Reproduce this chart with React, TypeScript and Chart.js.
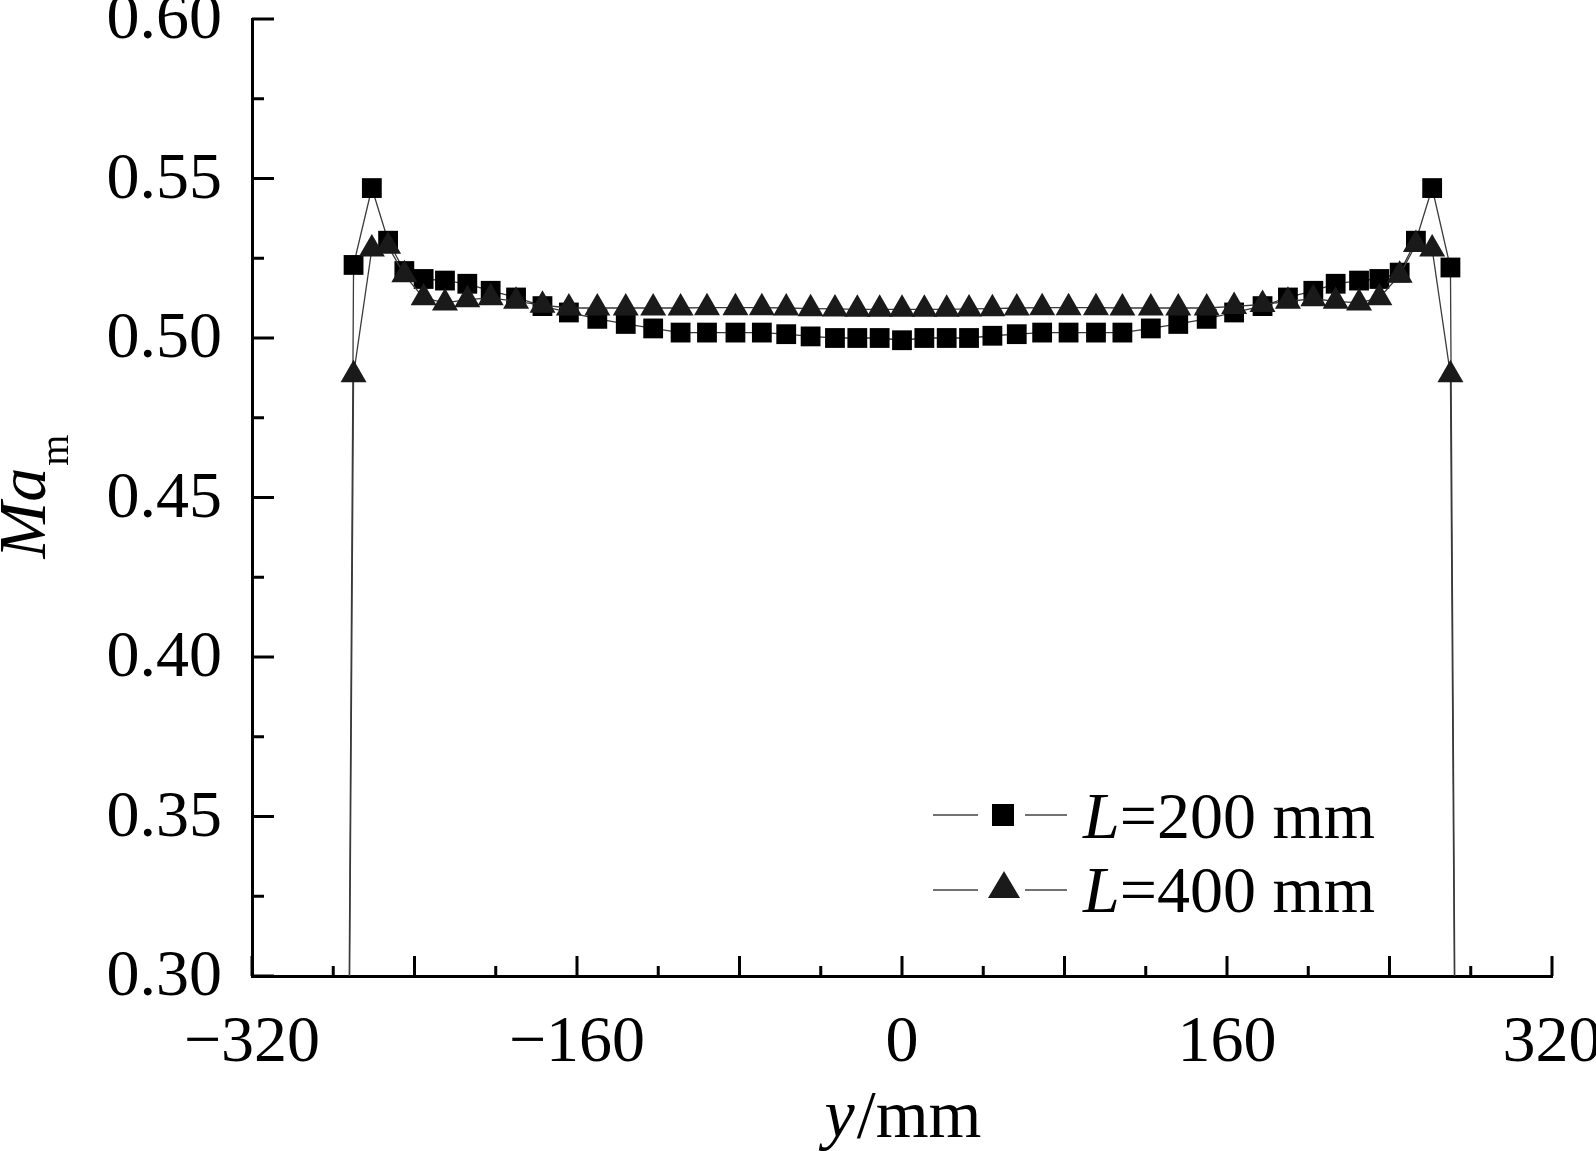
import { useEffect, useRef } from "react";
import { Chart, registerables } from "chart.js";

Chart.register(...registerables);

// spanwise position y (mm); ±275 is the wall where Ma drops to 0
const positions = [
  -275, -270, -261, -253, -245, -235.5, -225, -214, -202.5, -190, -177, -164,
  -150, -136, -122.5, -109, -96, -82, -69, -57, -45, -33, -22, -11, 0, 11, 22,
  33, 44.5, 56.5, 69, 82, 95.5, 108.5, 122.5, 136, 150, 163.5, 177.5, 190,
  202.5, 213.5, 225, 235, 245, 253, 261, 270, 275,
];

// L = 200 mm
const ma200 = [
  0, 0.5229, 0.547, 0.5305, 0.521, 0.5185, 0.518, 0.517, 0.5148, 0.5127, 0.51,
  0.508, 0.506, 0.5044, 0.503, 0.5017, 0.5017, 0.5017, 0.5017, 0.5012, 0.5005,
  0.5, 0.5, 0.5, 0.4993, 0.5, 0.5, 0.5, 0.5007, 0.5012, 0.5017, 0.5017, 0.5017,
  0.5017, 0.503, 0.5044, 0.506, 0.508, 0.51, 0.5127, 0.5148, 0.517, 0.518,
  0.5185, 0.5205, 0.5305, 0.547, 0.5221, 0,
];

// L = 400 mm
const ma400 = [
  0, 0.4885, 0.5279, 0.5288, 0.5198, 0.5126, 0.511, 0.512, 0.5126, 0.5115,
  0.5103, 0.5094, 0.5094, 0.5094, 0.5094, 0.5094, 0.5095, 0.5095, 0.5095,
  0.5094, 0.5092, 0.5091, 0.509, 0.509, 0.509, 0.509, 0.509, 0.5091, 0.5092,
  0.5094, 0.5095, 0.5095, 0.5095, 0.5094, 0.5094, 0.5094, 0.5094, 0.5099,
  0.5105, 0.5115, 0.5123, 0.5115, 0.511, 0.5126, 0.5197, 0.5293, 0.5279,
  0.4885, 0,
];

const seriesLabels = ["=200 mm", "=400 mm"];

const xMajorTicks = [-320, -240, -160, -80, 0, 80, 160, 240, 320];
const xMinorTicks = [-280, -200, -120, -40, 40, 120, 200, 280];
const yMajorTicks = [0.3, 0.35, 0.4, 0.45, 0.5, 0.55, 0.6];
const yMinorTicks = [0.325, 0.375, 0.425, 0.475, 0.525, 0.575];

const FONT = "'Liberation Serif', 'Times New Roman', serif";

const decor = {
  id: "decor",
  afterDraw(chart: Chart) {
    const { ctx, chartArea } = chart;
    const xs = chart.scales.x;
    const ys = chart.scales.y;
    ctx.save();

    // inward ticks
    ctx.strokeStyle = "#000";
    ctx.lineWidth = 3;
    ctx.beginPath();
    xMajorTicks.forEach((v) => {
      const px = xs.getPixelForValue(v);
      ctx.moveTo(px, chartArea.bottom);
      ctx.lineTo(px, chartArea.bottom - 20);
    });
    xMinorTicks.forEach((v) => {
      const px = xs.getPixelForValue(v);
      ctx.moveTo(px, chartArea.bottom);
      ctx.lineTo(px, chartArea.bottom - 10);
    });
    yMajorTicks.forEach((v) => {
      const py = ys.getPixelForValue(v);
      ctx.moveTo(chartArea.left, py);
      ctx.lineTo(chartArea.left + 22, py);
    });
    yMinorTicks.forEach((v) => {
      const py = ys.getPixelForValue(v);
      ctx.moveTo(chartArea.left, py);
      ctx.lineTo(chartArea.left + 12, py);
    });
    ctx.stroke();

    ctx.fillStyle = "#000";
    ctx.textBaseline = "alphabetic";
    ctx.textAlign = "left";

    // x title: y/mm
    const cx = (chartArea.left + chartArea.right) / 2;
    ctx.font = `italic 68px ${FONT}`;
    const wy = ctx.measureText("y").width;
    ctx.font = `68px ${FONT}`;
    const wmm = ctx.measureText("/mm").width;
    let sx = cx - (wy + wmm) / 2;
    ctx.font = `italic 68px ${FONT}`;
    ctx.fillText("y", sx, 1137);
    ctx.font = `68px ${FONT}`;
    ctx.fillText("/mm", sx + wy + 2, 1137);

    // y title: Ma_m
    ctx.save();
    ctx.translate(45, (chartArea.top + chartArea.bottom) / 2);
    ctx.rotate(-Math.PI / 2);
    ctx.font = `italic 68px ${FONT}`;
    const wMa = ctx.measureText("Ma").width;
    ctx.font = `40px ${FONT}`;
    const wm = ctx.measureText("m").width;
    sx = -(wMa + wm) / 2;
    ctx.font = `italic 68px ${FONT}`;
    ctx.fillText("Ma", sx, 0);
    ctx.font = `40px ${FONT}`;
    ctx.fillText("m", sx + wMa + 2, 23);
    ctx.restore();

    // legend
    const rows = [
      { lineY: 815, base: 838, marker: "rect" },
      { lineY: 890, base: 912, marker: "triangle" },
    ];
    rows.forEach((row, i) => {
      ctx.strokeStyle = "#444";
      ctx.lineWidth = 1.5;
      ctx.beginPath();
      ctx.moveTo(933, row.lineY);
      ctx.lineTo(978, row.lineY);
      ctx.moveTo(1025, row.lineY);
      ctx.lineTo(1067, row.lineY);
      ctx.stroke();
      ctx.fillStyle = i === 0 ? "#000" : "#1a1a1a";
      ctx.beginPath();
      if (row.marker === "rect") {
        ctx.rect(992, 804, 22, 22);
      } else {
        ctx.moveTo(1004, 871);
        ctx.lineTo(1020, 898);
        ctx.lineTo(988, 898);
        ctx.closePath();
      }
      ctx.fill();
      ctx.fillStyle = "#000";
      ctx.font = `italic 66px ${FONT}`;
      const wl = ctx.measureText("L").width;
      ctx.fillText("L", 1083, row.base);
      ctx.font = `66px ${FONT}`;
      ctx.fillText(seriesLabels[i], 1083 + wl, row.base);
    });

    ctx.restore();
  },
};

const App = () => {
  const canvasRef = useRef<HTMLCanvasElement | null>(null);

  useEffect(() => {
    document.body.style.margin = "0";
    if (!canvasRef.current) return;

    const radius = (r: number) => (c: any) =>
      c.parsed && c.parsed.y < 0.3 ? 0 : r;

    const chart = new Chart(canvasRef.current, {
      type: "line",
      data: {
        datasets: [
          {
            label: "L=200 mm",
            data: positions.map((x, i) => ({ x, y: ma200[i] })),
            borderColor: "#3a3a3a",
            borderWidth: 1.3,
            pointStyle: "rect",
            pointRadius: radius(14),
            pointBackgroundColor: "#000",
            pointBorderWidth: 0,
            order: 1,
          },
          {
            label: "L=400 mm",
            data: positions.map((x, i) => ({ x, y: ma400[i] })),
            borderColor: "#3a3a3a",
            borderWidth: 1.3,
            pointStyle: "triangle",
            pointRadius: radius(15),
            pointBackgroundColor: "#1a1a1a",
            pointBorderWidth: 0,
            order: 0,
          },
        ],
      },
      options: {
        responsive: false,
        animation: false,
        devicePixelRatio: 1,
        layout: { padding: { top: 19, right: 44, left: 0, bottom: 0 } },
        plugins: {
          legend: { display: false },
          tooltip: { enabled: false },
        },
        scales: {
          x: {
            type: "linear",
            min: -320,
            max: 320,
            grid: { display: true, drawOnChartArea: false, drawTicks: false },
            border: { display: true, color: "#000", width: 3 },
            ticks: {
              stepSize: 160,
              padding: 28,
              color: "#000",
              font: { family: FONT, size: 66 },
              callback: (v: any) =>
                Number(v) < 0 ? "\u2212" + Math.abs(Number(v)) : String(v),
            },
            afterFit: (s: any) => {
              s.height = 175;
              s.paddingLeft = 0;
              s.paddingRight = 0;
            },
          },
          y: {
            min: 0.3,
            max: 0.6,
            grid: { display: true, drawOnChartArea: false, drawTicks: false },
            border: { display: true, color: "#000", width: 3 },
            ticks: {
              stepSize: 0.05,
              padding: 30,
              labelOffset: 2,
              color: "#000",
              font: { family: FONT, size: 66 },
              callback: (v: any) => Number(v).toFixed(2),
            },
            afterFit: (s: any) => {
              s.width = 252;
              s.paddingTop = 0;
              s.paddingBottom = 0;
            },
          },
        },
      },
      plugins: [decor],
    });

    return () => {
      chart.destroy();
    };
  }, []);

  return <canvas ref={canvasRef} width={1596} height={1151}></canvas>;
};

export default App;
